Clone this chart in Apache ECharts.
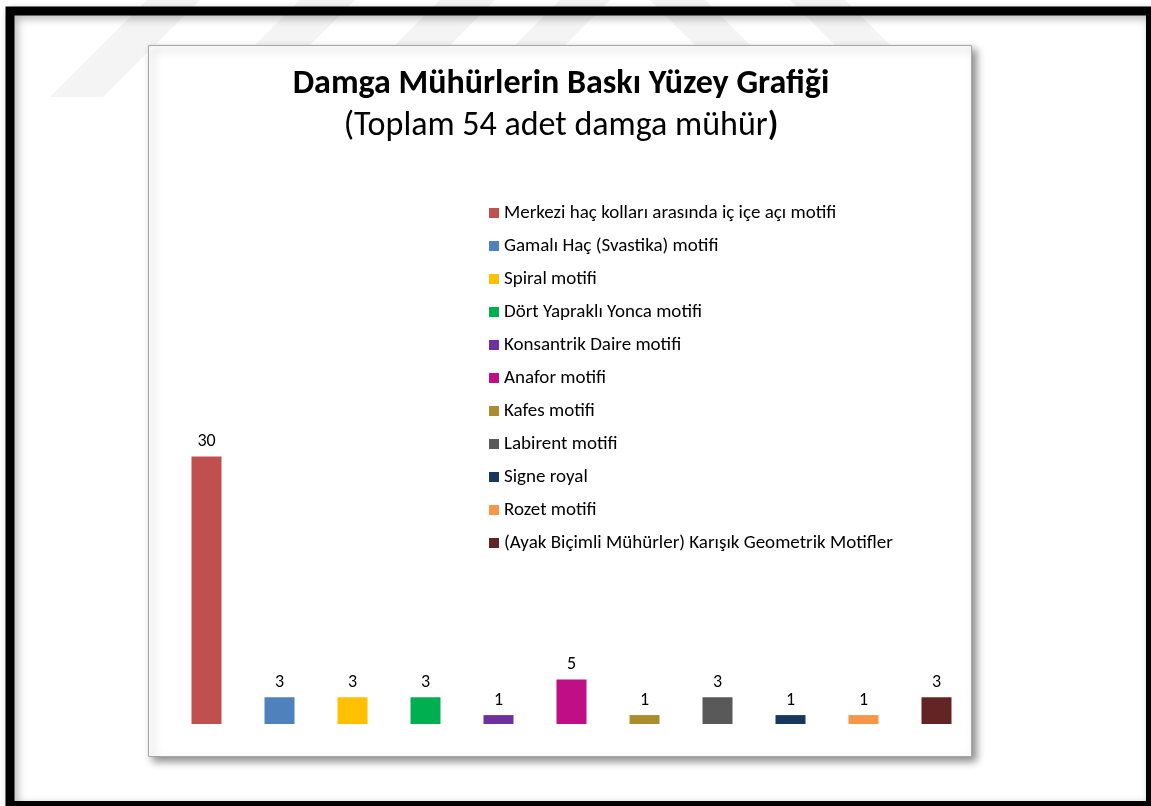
<!DOCTYPE html>
<html>
<head>
<meta charset="utf-8">
<script src="https://cdn.jsdelivr.net/npm/echarts@6/dist/echarts.min.js"></script>
<style>
html,body{margin:0;padding:0;background:#fff;}
#c{width:1151px;height:806px;}
</style>
</head>
<body>
<div id="c"></div>
<script>
const categories = [
  'Merkezi haç kolları arasında iç içe açı motifi',
  'Gamalı Haç (Svastika) motifi',
  'Spiral motifi',
  'Dört Yapraklı Yonca motifi',
  'Konsantrik Daire motifi',
  'Anafor motifi',
  'Kafes motifi',
  'Labirent motifi',
  'Signe royal',
  'Rozet motifi',
  '(Ayak Biçimli Mühürler) Karışık Geometrik Motifler'
];
const values = [30, 3, 3, 3, 1, 5, 1, 3, 1, 1, 3];
const colors = ['#C0504D','#4F81BD','#FFC000','#00B050','#7030A0','#C00F86','#AB8D2D','#595959','#17375E','#F79646','#632523'];
const titleText = 'Damga Mühürlerin Baskı Yüzey Grafiği';
const subtitleText = '(Toplam 54 adet damga mühür';
const subtitleEnd = ')';

const FONT = 'Carlito, Lato, sans-serif';

const series = categories.map((name, i) => ({
  name: name,
  type: 'bar',
  stack: 'all',
  barWidth: 30,
  itemStyle: { color: colors[i] },
  label: { show: true, position: 'top', distance: 6, color: '#000', fontSize: 18, fontFamily: FONT },
  data: categories.map((c, j) => j === i ? values[i] : '-')
}));

// watermark stripes (faint)
function stripe(xTop, w, h, dir) {
  const pts = dir > 0
    ? [[xTop, 0], [xTop + w, 0], [xTop + w - h, h], [xTop - h, h]]
    : [[xTop, 0], [xTop + w, 0], [xTop + w + h, h], [xTop + h, h]];
  return { type: 'polygon', silent: true, z: 0, shape: { points: pts }, style: { fill: '#F4F4F4' } };
}

const chart = echarts.init(document.getElementById('c'));
chart.setOption({
  animation: false,
  backgroundColor: '#fff',
  graphic: [
    stripe(147, 53, 97, 1),
    stripe(300, 55, 100, 1),
    stripe(440, 55, 100, 1),
    stripe(560, 50, 100, 1),
    stripe(650, 55, 100, -1),
    stripe(790, 55, 100, -1),
    { type: 'rect', silent: true, z: 1,
      shape: { x: 10, y: 11, width: 1140.5, height: 794.5 },
      style: { fill: 'transparent', stroke: '#000', lineWidth: 9, shadowColor: 'rgba(0,0,0,0.3)', shadowBlur: 8, shadowOffsetX: 3, shadowOffsetY: 3 } },
    { type: 'rect', silent: true, z: 2,
      shape: { x: 148.5, y: 45.5, width: 823, height: 711 },
      style: { fill: '#fff', stroke: '#A6A6A6', lineWidth: 1, shadowColor: 'rgba(0,0,0,0.45)', shadowBlur: 8, shadowOffsetX: 4, shadowOffsetY: 4 } }
  ],
  title: {
    left: 556, top: 59, textAlign: 'center', itemGap: 2,
    text: titleText,
    textStyle: { fontFamily: FONT, fontWeight: 'bold', fontSize: 34, lineHeight: 40, color: '#000' },
    subtext: '{r|' + subtitleText + '}{b|' + subtitleEnd + '}',
    subtextStyle: {
      fontFamily: FONT, fontSize: 34, lineHeight: 40, color: '#000',
      rich: {
        r: { fontFamily: FONT, fontSize: 34, lineHeight: 40, color: '#000' },
        b: { fontFamily: FONT, fontSize: 34, lineHeight: 40, color: '#000', fontWeight: 'bold' }
      }
    }
  },
  legend: {
    orient: 'vertical', left: 489, top: 203, padding: 0,
    itemWidth: 10, itemHeight: 10, itemGap: 13, icon: 'rect',
    textStyle: { fontFamily: FONT, fontSize: 19, lineHeight: 20, color: '#000' },
    data: categories
  },
  grid: { left: 170, width: 803, top: 412, bottom: 82, containLabel: false },
  xAxis: { type: 'category', data: categories, show: false },
  yAxis: { type: 'value', min: 0, max: 35, show: false },
  series: series
});
</script>
</body>
</html>
